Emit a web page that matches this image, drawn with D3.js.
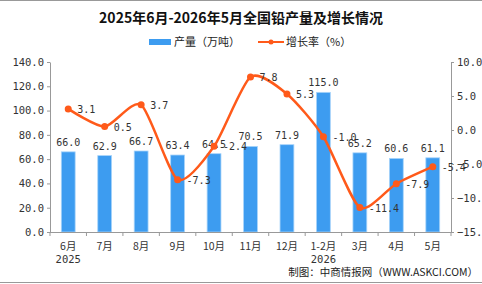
<!DOCTYPE html>
<html><head><meta charset="utf-8">
<script src="https://cdn.jsdelivr.net/npm/d3@7"></script>
<style>body{margin:0;background:#fff}svg{display:block}</style>
</head><body>
<script>
const categories = ["6月","7月","8月","9月","10月","11月","12月","1-2月","3月","4月","5月"];
const subLabels = ["2025","","","","","","","2026","","",""];
const production = [66.0,62.9,66.7,63.4,64.5,70.5,71.9,115.0,65.2,60.6,61.1];
const growth = [3.1,0.5,3.7,-7.3,-2.4,7.8,5.3,-1.0,-11.4,-7.9,-5.4];
const leftTicks = [0,20,40,60,80,100,120,140];
const rightTicks = [-15,-10,-5,0,5,10];

const W=482,H=284;
const svg=d3.select("body").append("svg").attr("width",W).attr("height",H);
const numFont="'DejaVu Sans Mono', 'Liberation Mono', monospace";
const cjk="'Noto Sans CJK SC', sans-serif";

svg.append("line").attr("x1",0).attr("x2",W).attr("y1",0.5).attr("y2",0.5).attr("stroke","#999");
svg.append("line").attr("x1",0).attr("x2",W).attr("y1",H-1.5).attr("y2",H-1.5).attr("stroke","#999");

svg.append("text").attr("x",241).attr("y",23).attr("text-anchor","middle")
  .attr("font-family","'Noto Sans CJK SC', serif").attr("font-weight","bold").attr("font-size",14).attr("fill","#111")
  .text("2025年6月-2026年5月全国铅产量及增长情况");

const x=d3.scaleBand().domain(categories).range([50,451]).paddingInner(0.62).paddingOuter(0.31);
const yL=d3.scaleLinear().domain([0,140]).range([232,62]);
const yR=d3.scaleLinear().domain([-15,10]).range([232,62]);

// legend
svg.append("rect").attr("x",149).attr("y",39).attr("width",22).attr("height",6).attr("fill","#3d9cf0");
svg.append("text").attr("x",174).attr("y",46).attr("font-family",cjk).attr("font-size",11).attr("fill","#222").text("产量（万吨）");
svg.append("line").attr("x1",258).attr("x2",284).attr("y1",42).attr("y2",42).attr("stroke","#ff5a1a").attr("stroke-width",2);
svg.append("circle").attr("cx",271).attr("cy",42).attr("r",2.5).attr("fill","#ff5a1a");
svg.append("text").attr("x",286).attr("y",46).attr("font-family",cjk).attr("font-size",11).attr("fill","#222").text("增长率（%）");

// bars
svg.selectAll("rect.bar").data(production).enter().append("rect").attr("class","bar")
  .attr("x",(d,i)=>x(categories[i])).attr("width",x.bandwidth())
  .attr("y",d=>yL(d)).attr("height",d=>yL(0)-yL(d))
  .attr("fill","#3d9cf0").attr("stroke","#a8d4fa").attr("stroke-width",0.8);
svg.selectAll("text.bl").data(production).enter().append("text").attr("class","bl")
  .attr("x",(d,i)=>x(categories[i])+x.bandwidth()/2).attr("y",d=>yL(d)-6)
  .attr("text-anchor","middle").attr("font-family",numFont).attr("font-size",10).attr("fill","#333")
  .text(d=>d.toFixed(1));

// axes
const axL=svg.append("g").attr("transform","translate(50,0)").call(d3.axisLeft(yL).tickValues(leftTicks).tickFormat(d3.format(".1f")).tickSize(3).tickSizeOuter(0));
const axR=svg.append("g").attr("transform","translate(451,0)").call(d3.axisRight(yR).tickValues(rightTicks).tickFormat(d3.format(".1f")).tickSize(3).tickSizeOuter(0));
[axL,axR].forEach(a=>{a.select(".domain").attr("stroke","#999");a.selectAll("line").attr("stroke","#999");
  a.selectAll("text").attr("font-family",numFont).attr("font-size",10.5).attr("fill","#333");});
axL.selectAll("text").attr("x",-6);
axR.selectAll("text").attr("x",6);

const step=x.step();
const xb=svg.append("g");
xb.append("line").attr("x1",50).attr("x2",451).attr("y1",232.5).attr("y2",232.5).attr("stroke","#999");
const bounds=d3.range(categories.length+1).map(i=>50+i*(401/categories.length));
xb.selectAll("line.t").data(bounds).enter().append("line").attr("class","t")
  .attr("x1",d=>d).attr("x2",d=>d).attr("y1",232).attr("y2",236).attr("stroke","#999");
xb.selectAll("text.c").data(categories).enter().append("text").attr("class","c")
  .attr("x",d=>x(d)+x.bandwidth()/2).attr("y",250).attr("text-anchor","middle")
  .attr("font-family",cjk).attr("font-size",10.5).attr("fill","#333").text(d=>d);
xb.selectAll("text.s").data(subLabels).enter().append("text").attr("class","s")
  .attr("x",(d,i)=>x(categories[i])+x.bandwidth()/2).attr("y",263).attr("text-anchor","middle")
  .attr("font-family",numFont).attr("font-size",10.5).attr("fill","#333").text(d=>d);

// line
const cx=(i)=>x(categories[i])+x.bandwidth()/2;
const line=d3.line().x((d,i)=>cx(i)).y(d=>yR(d)).curve(d3.curveCardinal.tension(0.3));
svg.append("path").datum(growth).attr("d",line).attr("fill","none").attr("stroke","#ff5a1a").attr("stroke-width",2.5);
svg.selectAll("circle.p").data(growth).enter().append("circle").attr("class","p")
  .attr("cx",(d,i)=>cx(i)).attr("cy",d=>yR(d)).attr("r",3.5).attr("fill","#ff5a1a");
svg.selectAll("text.gl").data(growth).enter().append("text").attr("class","gl")
  .attr("x",(d,i)=>cx(i)+9).attr("y",d=>yR(d)+4)
  .attr("font-family",numFont).attr("font-size",10).attr("fill","#333").text(d=>d.toFixed(1));

svg.append("text").attr("x",478).attr("y",276).attr("text-anchor","end")
  .attr("font-family",cjk).attr("font-size",10.5).attr("fill","#222").text("制图：中商情报网（WWW.ASKCI.COM）");
</script>
</body></html>
